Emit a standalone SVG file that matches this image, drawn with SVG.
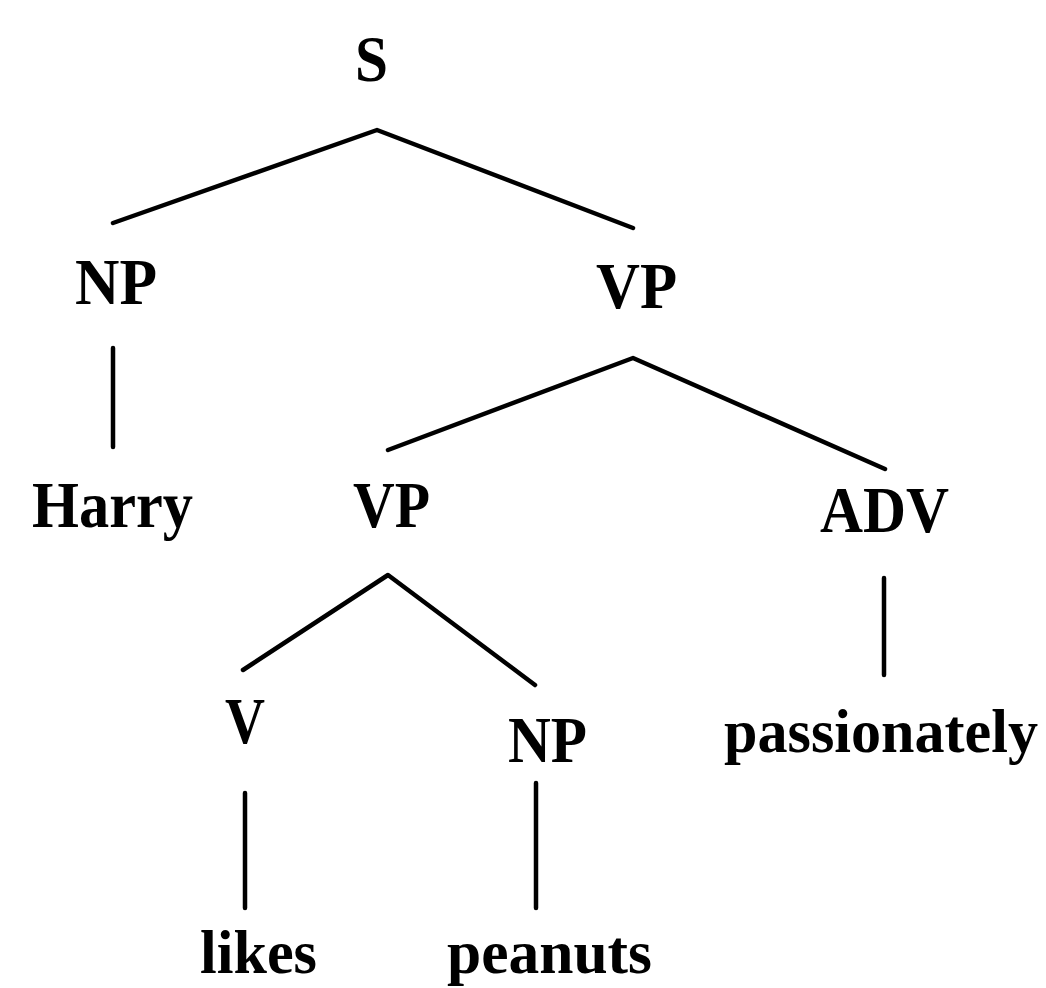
<svg xmlns="http://www.w3.org/2000/svg" width="1046" height="988" viewBox="0 0 1046 988">
<style>
.lbl{font-family:"Liberation Serif","Times New Roman",serif;font-weight:bold;font-size:66px;fill:#000}
.leaf{font-size:62px}
.adv{font-size:61px}
.edge{fill:none;stroke:#000;stroke-width:4.5;stroke-linejoin:round;stroke-linecap:round}
</style>
<rect width="1046" height="988" fill="#fff"/>
<g id="connectors">
<polyline class="edge" points="113,223 377,130 633,228"/>
<line class="edge" x1="113" y1="348" x2="113" y2="447"/>
<polyline class="edge" points="388,450 633,358 885,469"/>
<polyline class="edge" points="243,670 388,575 535,685"/>
<line class="edge" x1="245" y1="793" x2="245" y2="908"/>
<line class="edge" x1="536" y1="783" x2="536" y2="908"/>
<line class="edge" x1="884" y1="578" x2="884" y2="675"/>
</g>
<g id="node-S"><text class="lbl" x="355" y="81" textLength="33" lengthAdjust="spacingAndGlyphs">S</text></g>
<g id="node-NP1"><text class="lbl" x="75" y="304" textLength="82" lengthAdjust="spacingAndGlyphs">NP</text></g>
<g id="node-VP1"><text class="lbl" x="596" y="308" textLength="81" lengthAdjust="spacingAndGlyphs">VP</text></g>
<g id="node-Harry"><text class="lbl" x="32" y="527" textLength="161" lengthAdjust="spacingAndGlyphs">Harry</text></g>
<g id="node-VP2"><text class="lbl" x="353" y="527" textLength="77" lengthAdjust="spacingAndGlyphs">VP</text></g>
<g id="node-ADV"><text class="lbl" x="820" y="532" textLength="129" lengthAdjust="spacingAndGlyphs">ADV</text></g>
<g id="node-V"><text class="lbl" x="225" y="743" textLength="40" lengthAdjust="spacingAndGlyphs">V</text></g>
<g id="node-NP2"><text class="lbl" x="508" y="762" textLength="79" lengthAdjust="spacingAndGlyphs">NP</text></g>
<g id="node-passionately"><text class="lbl adv" x="724" y="752" textLength="314" lengthAdjust="spacingAndGlyphs">passionately</text></g>
<g id="node-likes"><text class="lbl leaf" x="200" y="973" textLength="117" lengthAdjust="spacingAndGlyphs">likes</text></g>
<g id="node-peanuts"><text class="lbl leaf" x="447" y="973" textLength="205" lengthAdjust="spacingAndGlyphs">peanuts</text></g>
</svg>
